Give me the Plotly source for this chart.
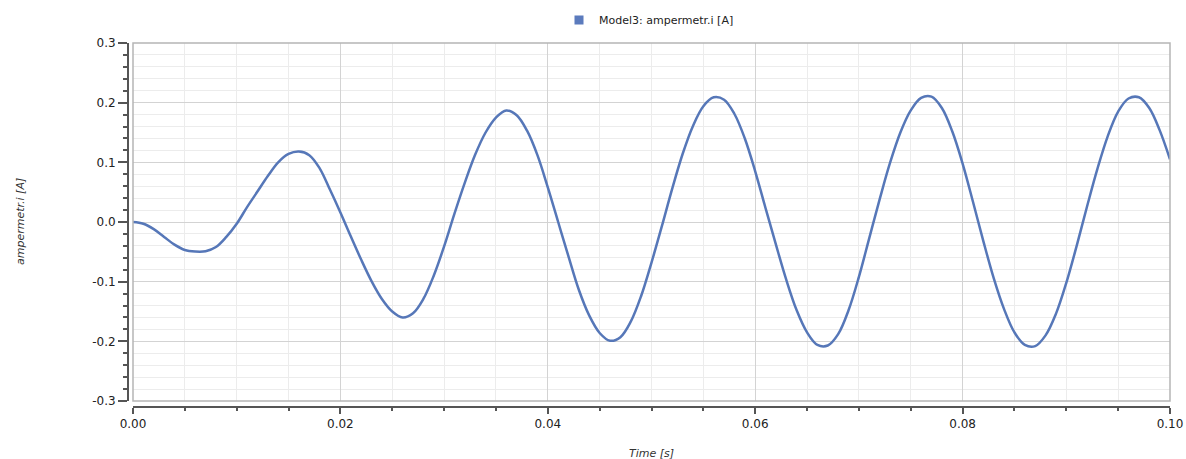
import plotly.graph_objects as go

time_s = [0.000, 0.001, 0.002, 0.003, 0.004, 0.005, 0.006, 0.007, 0.008, 0.009,
          0.010, 0.011, 0.012, 0.013, 0.014, 0.015, 0.016, 0.017, 0.018, 0.019,
          0.020, 0.021, 0.022, 0.023, 0.024, 0.025, 0.026, 0.027, 0.028, 0.029,
          0.030, 0.031, 0.032, 0.033, 0.034, 0.035, 0.036, 0.037, 0.038, 0.039,
          0.040, 0.041, 0.042, 0.043, 0.044, 0.045, 0.046, 0.047, 0.048, 0.049,
          0.050, 0.051, 0.052, 0.053, 0.054, 0.055, 0.056, 0.057, 0.058, 0.059,
          0.060, 0.061, 0.062, 0.063, 0.064, 0.065, 0.066, 0.067, 0.068, 0.069,
          0.070, 0.071, 0.072, 0.073, 0.074, 0.075, 0.076, 0.077, 0.078, 0.079,
          0.080, 0.081, 0.082, 0.083, 0.084, 0.085, 0.086, 0.087, 0.088, 0.089,
          0.090, 0.091, 0.092, 0.093, 0.094, 0.095, 0.096, 0.097, 0.098, 0.099,
          0.100]
current_a = [0.000, -0.003, -0.012, -0.025, -0.038, -0.047, -0.0495, -0.049, -0.042, -0.025,
             -0.003, 0.025, 0.051, 0.077, 0.100, 0.114, 0.118, 0.112, 0.090, 0.054,
             0.016, -0.024, -0.063, -0.099, -0.129, -0.150, -0.160, -0.153, -0.129, -0.090,
             -0.041, 0.014, 0.066, 0.113, 0.150, 0.175, 0.187, 0.179, 0.153, 0.112,
             0.058, 0.000, -0.058, -0.114, -0.157, -0.186, -0.199, -0.193, -0.167, -0.124,
             -0.068, -0.007, 0.056, 0.114, 0.161, 0.194, 0.209, 0.205, 0.181, 0.140,
             0.085, 0.023, -0.038, -0.097, -0.148, -0.185, -0.206, -0.207, -0.188, -0.148,
             -0.092, -0.027, 0.038, 0.099, 0.150, 0.187, 0.208, 0.210, 0.191, 0.152,
             0.098, 0.034, -0.032, -0.094, -0.146, -0.185, -0.206, -0.208, -0.190, -0.154,
             -0.102, -0.040, 0.026, 0.089, 0.144, 0.185, 0.207, 0.209, 0.191, 0.154,
             0.105]

x_tick_vals = [0.00, 0.02, 0.04, 0.06, 0.08, 0.10]
x_tick_text = ["0.00", "0.02", "0.04", "0.06", "0.08", "0.10"]
y_tick_vals = [-0.3, -0.2, -0.1, 0.0, 0.1, 0.2, 0.3]
y_tick_text = ["-0.3", "-0.2", "-0.1", "0.0", "0.1", "0.2", "0.3"]

series_name = "Model3: ampermetr.i [A]"
x_title = "Time [s]"
y_title = "ampermetr.i [A]"

LINE = "#5677b8"
FONT = "DejaVu Sans"

fig = go.Figure()
fig.add_trace(go.Scatter(
    x=time_s, y=current_a, mode="lines",
    line=dict(color=LINE, width=2.5, shape="spline", smoothing=1.0),
    showlegend=False, hoverinfo="x+y"))
fig.add_trace(go.Scatter(
    x=[None], y=[None], mode="markers", name=series_name,
    marker=dict(symbol="square", size=9, color="#5b7bbd")))

W, H = 1186, 459
L, R, T, B = 128, 16, 43, 52
pw = W - L - R
ph = H - T - B

fig.update_layout(
    width=W, height=H,
    margin=dict(l=L, r=R, t=T, b=B, pad=0, autoexpand=False),
    paper_bgcolor="white", plot_bgcolor="white",
    font=dict(family=FONT, size=11, color="#222222"),
    showlegend=True,
    legend=dict(orientation="h", x=0.5, xanchor="center", y=1 + 23 / ph, yanchor="middle",
                font=dict(family=FONT, size=11, color="#222222"), itemwidth=30,
                bgcolor="rgba(0,0,0,0)"),
    xaxis=dict(
        range=[0, 0.1], domain=[5 / pw, 1], anchor="free", position=0, automargin=False,
        tickmode="array", tickvals=x_tick_vals, ticktext=x_tick_text,
        showgrid=True, gridcolor="#d3d3d3", gridwidth=1,
        zeroline=False, showline=True, linecolor="#555555", linewidth=2,
        ticks="outside", ticklen=6, tickwidth=1.5, tickcolor="#555555",
        tickfont=dict(family=FONT, size=12, color="#222222"),
        minor=dict(dtick=0.005, tick0=0, showgrid=True, gridcolor="#ececec", gridwidth=1,
                   ticks="outside", ticklen=3, tickcolor="#555555", tickwidth=1.5),
    ),
    yaxis=dict(
        range=[-0.3, 0.3], domain=[6 / ph, 1], anchor="free", position=0, automargin=False,
        tickmode="array", tickvals=y_tick_vals, ticktext=y_tick_text,
        showgrid=True, gridcolor="#d3d3d3", gridwidth=1,
        zeroline=False, showline=True, linecolor="#555555", linewidth=2,
        ticks="outside", ticklen=9, tickwidth=1.5, tickcolor="#555555",
        tickfont=dict(family=FONT, size=12, color="#222222"),
        minor=dict(dtick=0.02, tick0=0, showgrid=True, gridcolor="#ececec", gridwidth=1,
                   ticks="outside", ticklen=4, tickcolor="#555555", tickwidth=1.5),
    ),
    shapes=[dict(type="rect", xref="x domain", yref="y domain", x0=0, x1=1, y0=0, y1=1,
                 line=dict(color="#b5b5b5", width=1.5), fillcolor="rgba(0,0,0,0)", layer="above")],
    annotations=[
        dict(text="<i>" + x_title + "</i>", xref="x domain", yref="paper", x=0.5, y=0,
             yanchor="top", yshift=-38, showarrow=False,
             font=dict(family=FONT, size=11, color="#333333")),
        dict(text="<i>" + y_title + "</i>", xref="paper", yref="y domain", x=0, y=0.5,
             xanchor="center", xshift=-108, showarrow=False, textangle=-90,
             font=dict(family=FONT, size=11, color="#333333")),
    ],
)

fig.write_html("out.html")
